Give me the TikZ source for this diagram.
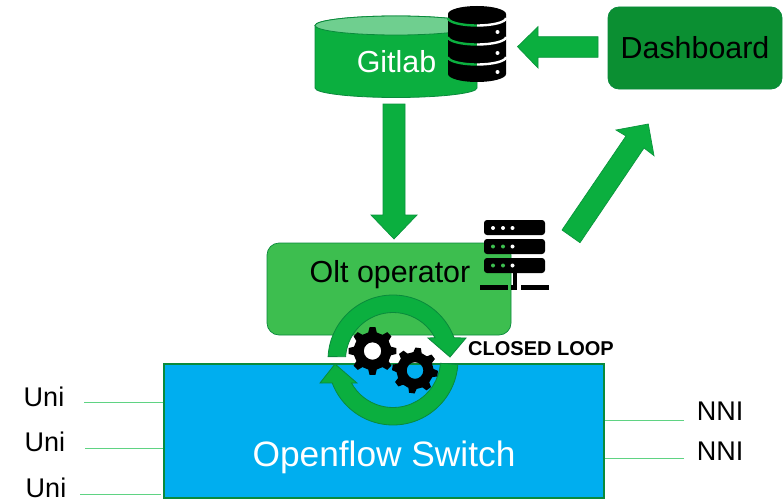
\documentclass[tikz,border=0pt]{standalone}
\usepackage{fontspec}
\setmainfont{Liberation Sans}
\usetikzlibrary{calc}
\definecolor{gmain}{HTML}{0BAF3F}
\definecolor{gedge}{HTML}{0A8A3C}
\definecolor{gdark}{HTML}{0B8F32}
\definecolor{glight}{HTML}{6FCF8F}
\definecolor{golt}{HTML}{3DBE4F}
\definecolor{sky}{HTML}{00AEEF}
\definecolor{wire}{HTML}{5FD383}
\tikzset{
  blockarrow/.style={fill=gmain,draw=gedge!70!gmain,line width=0.7pt,line join=miter},
  ringarrow/.style={fill=gmain,draw=gedge,line width=0.8pt,line join=miter},
  wireline/.style={draw=wire,line width=0.9pt},
  lab/.style={font=\fontsize{30.4}{30}\selectfont,text=black,inner sep=0pt},
  portlab/.style={font=\fontsize{27}{27}\selectfont,text=black,inner sep=0pt},
  iconblack/.style={fill=black,draw=none}
}
% gear: centre x, y, outer r, root r, hole r, phase
\newcommand{\cogwheel}[6]{%
  \fill[black,even odd rule]
  \foreach \k in {0,...,7}{
    \ifnum\k=0 ($(#1,#2)+({#6+45*\k-13}:#4)$) \else -- ($(#1,#2)+({#6+45*\k-13}:#4)$) \fi
    -- ($(#1,#2)+({#6+45*\k-7}:#3)$) -- ($(#1,#2)+({#6+45*\k+7}:#3)$) -- ($(#1,#2)+({#6+45*\k+13}:#4)$)
  } -- cycle
  (#1,#2) circle (#5);
}
\begin{document}
\begin{tikzpicture}[x=1pt,y=-1pt]
\useasboundingbox (0,0) rectangle (783,503);
\fill[white] (0,0) rectangle (783,503);

% Gitlab cylinder (angles run clockwise on the page because y is flipped)
\path[fill=gmain,draw=gedge,line width=0.8pt]
  (315,25.5) -- (315,88) arc[start angle=180,end angle=0,x radius=81,y radius=9.5]
  -- (477,25.5) arc[start angle=0,end angle=-180,x radius=81,y radius=9.5] -- cycle;
\path[fill=glight,draw=gedge,line width=0.8pt] (396,25.5) ellipse[x radius=81,y radius=9.5];
\node[inner sep=0pt,text=white,font=\fontsize{30.4}{30}\selectfont] (gitlab) at (396.5,62) {Gitlab};

% Database icon
\path[iconblack] (448,14) -- (448,74) arc[start angle=180,end angle=0,x radius=29,y radius=8]
  -- (506,14) arc[start angle=0,end angle=-180,x radius=29,y radius=8] -- cycle;
\begin{scope}
  \clip (440,0) rectangle (477,90);
  \foreach \yy in {18,37,57}
    \draw[gmain,line width=2.4pt] (448,\yy) arc[start angle=180,end angle=0,x radius=29,y radius=7.5];
\end{scope}
\begin{scope}
  \clip (477,0) rectangle (510,90);
  \foreach \yy in {18,37,57}
    \draw[white,line width=2.4pt] (448,\yy) arc[start angle=180,end angle=0,x radius=29,y radius=7.5];
\end{scope}
\foreach \yy in {32,53,72}
  \fill[white] (497.5,\yy) circle (2);

% Dashboard
\node[draw=gedge,fill=gdark,rounded corners=11pt,line width=0.8pt,minimum width=174pt,minimum height=82pt,
  inner sep=0pt,font=\fontsize{30.4}{30}\selectfont,text=black] (dash) at (695,48) {Dashboard};

% Block arrows
\path[blockarrow] (598,36.7) -- (538,36.7) -- (538,26.7) -- (517.5,46.7) -- (538,68) -- (538,57.3) -- (598,57.3) -- cycle;
\path[blockarrow] (383,104) -- (405,104) -- (405,215) -- (417,215) -- (394,239) -- (371,215) -- (383,215) -- cycle;
\path[blockarrow] (562,230) -- (626,136) -- (616,130) -- (648.3,124) -- (654,155.7) -- (644,148) -- (580,242.7) -- cycle;

% Olt operator
\node[draw=gedge,fill=golt,rounded corners=12pt,line width=0.7pt,minimum width=244pt,minimum height=92pt] (olt) at (389,289) {};
\node[lab] (oltlabel) at (390,275) {Olt operator};

% Server icon
\foreach \yy in {220,239,258}
  \fill[black,rounded corners=3pt] (484,\yy) rectangle (545,\yy+15);
\foreach \xx in {493,503}{
  \fill[white] (\xx,228) circle (2);
  \fill[golt] (\xx,246.5) circle (2);
  \fill[golt] (\xx,265.5) circle (2);
}
\foreach \yy in {228,246.5,265.5}
  \fill[white] (512.5,\yy) circle (2);
\fill[black] (513,273) rectangle (517,290);
\fill[black] (480,285) rectangle (508,290);
\fill[black] (511,285) rectangle (517,290);
\fill[black] (521,285) rectangle (549,290);

% Openflow switch
\node[draw=gedge,fill=sky,line width=1.1pt,minimum width=440pt,minimum height=134pt,inner sep=0pt] (sw) at (384,431) {};
\node[inner sep=0pt,text=white,font=\fontsize{35.3}{35}\selectfont] (swlabel) at (384,457) {Openflow Switch};

% Closed-loop ring arrows
\begin{scope}[shift={(393,360)}]
\path[ringarrow] (183:65) arc[start angle=183,end angle=340,radius=65]
  -- (73,-22) -- (57,-3) -- (35,-22) -- (332:47.5)
  arc[start angle=332,end angle=184,radius=47.5] -- cycle;
\path[ringarrow] (4:65) arc[start angle=4,end angle=159.3,radius=65]
  -- (-73,23) -- (-58,4) -- (-36,23) -- (151:47.5)
  arc[start angle=151,end angle=4,radius=47.5] -- cycle;
\end{scope}

% Gears
\cogwheel{372.5}{351}{24}{19}{8.7}{0}
\cogwheel{415}{370.5}{23}{18.5}{8.3}{8}

\node[inner sep=0pt,font=\bfseries\fontsize{20}{20}\selectfont] (loop) at (541,349) {CLOSED LOOP};

% Ports
\node[portlab] (u1) at (44,397) {Uni};
\node[portlab] (u2) at (45,442) {Uni};
\node[portlab] (u3) at (46,488) {Uni};
\node[portlab] (n1) at (720,411) {NNI};
\node[portlab] (n2) at (720,451) {NNI};
\coordinate (cu1) at (84,402.5);
\coordinate (cu2) at (85,448);
\coordinate (cu3) at (80,494);
\coordinate (cu3end) at (161,494);
\coordinate (cn1) at (684,420);
\coordinate (cn2) at (684,458);
\draw[wireline] (cu1) -- (cu1 -| sw.west);
\draw[wireline] (cu2) -- (cu2 -| sw.west);
\draw[wireline] (cu3) -- (cu3end);
\draw[wireline] (cn1) -- (cn1 -| sw.east);
\draw[wireline] (cn2) -- (cn2 -| sw.east);
\end{tikzpicture}
\end{document}
